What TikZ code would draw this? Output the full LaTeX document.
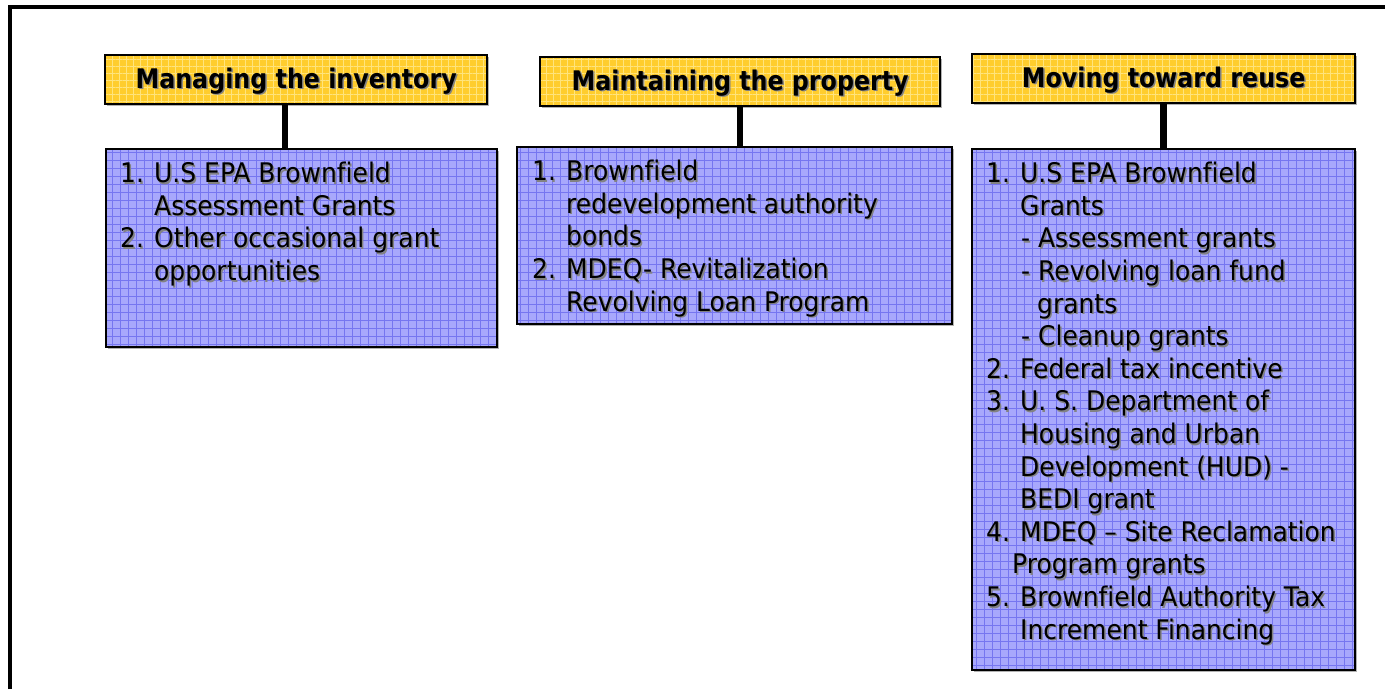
\documentclass[tikz,border=0pt]{standalone}
\usepackage{fontspec}
\setmainfont{DejaVu Sans}[FakeStretch=0.925,Ligatures=NoCommon]
\newfontfamily\headfont{DejaVu Sans}[FakeStretch=0.88,Ligatures=NoCommon]
\usetikzlibrary{positioning,patterns.meta,shadows}

\definecolor{headfill}{RGB}{255,205,45}
\definecolor{headgrid}{RGB}{255,228,125}
\definecolor{listfill}{RGB}{168,168,252}
\definecolor{listgrid}{RGB}{118,118,240}
\definecolor{textshade}{RGB}{130,130,130}

% text with a small grey shadow
\newcommand\shd[1]{\makebox[0pt][l]{\hspace{1.5pt}\raisebox{-1.5pt}{\textcolor{textshade}{#1}}}#1}
% numbered line and continuation line
\newcommand\itm[2]{\shd{\makebox[34pt][l]{#1}#2}}
\newcommand\cnt[2][34pt]{\hspace*{#1}\shd{#2}}

\begin{document}
\begin{tikzpicture}[x=1pt,y=-1pt,
    head/.style={fill=headfill,
      postaction={pattern={Hatch[distance=7pt,line width=0.8pt]},pattern color=headgrid},
      postaction={draw=black,line width=1.5pt},
      drop shadow={shadow xshift=1.5pt,shadow yshift=-1.5pt,fill=gray!60,opacity=1},
      anchor=north west,inner sep=0pt,text depth=3pt,
      font=\headfont\fontsize{27}{32}\selectfont\bfseries},
    list/.style={fill=listfill,
      postaction={pattern={Hatch[distance=8pt,line width=1pt]},pattern color=listgrid},
      postaction={draw=black,line width=2pt},
      drop shadow={shadow xshift=1.5pt,shadow yshift=-2pt,fill=gray!60,opacity=1},
      anchor=north west,inner sep=0pt},
    items/.style={anchor=north west,inner sep=0pt,align=left,
      font=\fontsize{27}{32.6}\selectfont},
    link/.style={line width=6.5pt}]

  \useasboundingbox (0,0) rectangle (1385,689);
  \draw[line width=4.5pt] (10,689) -- (10,7) -- (1385,7);

  % headings
  \node[head,minimum width=382pt,minimum height=49pt] (hInv) at (105,55) {\shd{Managing the inventory}};
  \node[head,minimum width=400pt,minimum height=49pt] (hMaint) at (540,57) {\shd{Maintaining the property}};
  \node[head,minimum width=383pt,minimum height=49pt] (hReuse) at (972,54) {\shd{Moving toward reuse}};

  % funding boxes
  \node[list,minimum width=391pt,minimum height=198pt] (bInv) at (106,149) {};
  \node[list,minimum width=435pt,minimum height=177pt] (bMaint) at (517,147) {};
  \node[list,minimum width=383pt,minimum height=521pt] (bReuse) at (972,149) {};

  \draw[link] ([xshift=-11pt]hInv.south) -- ([xshift=-11pt]hInv.south |- bInv.north);
  \draw[link] (hMaint.south) -- (hMaint.south |- bMaint.north);
  \draw[link] (hReuse.south) -- (hReuse.south |- bReuse.north);

  \node[items] (tInv) at ([xshift=14pt,yshift=-13pt]bInv.north west) {%
    \itm{1.}{U.S EPA Brownfield}\\
    \cnt{Assessment Grants}\\
    \itm{2.}{Other occasional grant}\\
    \cnt{opportunities}};
  \node[items] (tMaint) at ([xshift=15pt,yshift=-13pt]bMaint.north west) {%
    \itm{1.}{Brownfield}\\
    \cnt{redevelopment authority}\\
    \cnt{bonds}\\
    \itm{2.}{MDEQ- Revitalization}\\
    \cnt{Revolving Loan Program}};
  \node[items] (tReuse) at ([xshift=14pt,yshift=-13pt]bReuse.north west) {%
    \itm{1.}{U.S EPA Brownfield}\\
    \cnt{Grants}\\
    \cnt[35pt]{- Assessment grants}\\
    \cnt[35pt]{- Revolving loan fund}\\
    \cnt[51pt]{grants}\\
    \cnt[35pt]{- Cleanup grants}\\
    \itm{2.}{Federal tax incentive}\\
    \itm{3.}{U. S. Department of}\\
    \cnt{Housing and Urban}\\
    \cnt{Development (HUD) -}\\
    \cnt{BEDI grant}\\
    \itm{4.}{MDEQ – Site Reclamation}\\
    \cnt[26pt]{Program grants}\\
    \itm{5.}{Brownfield Authority Tax}\\
    \cnt{Increment Financing}};
\end{tikzpicture}
\end{document}
